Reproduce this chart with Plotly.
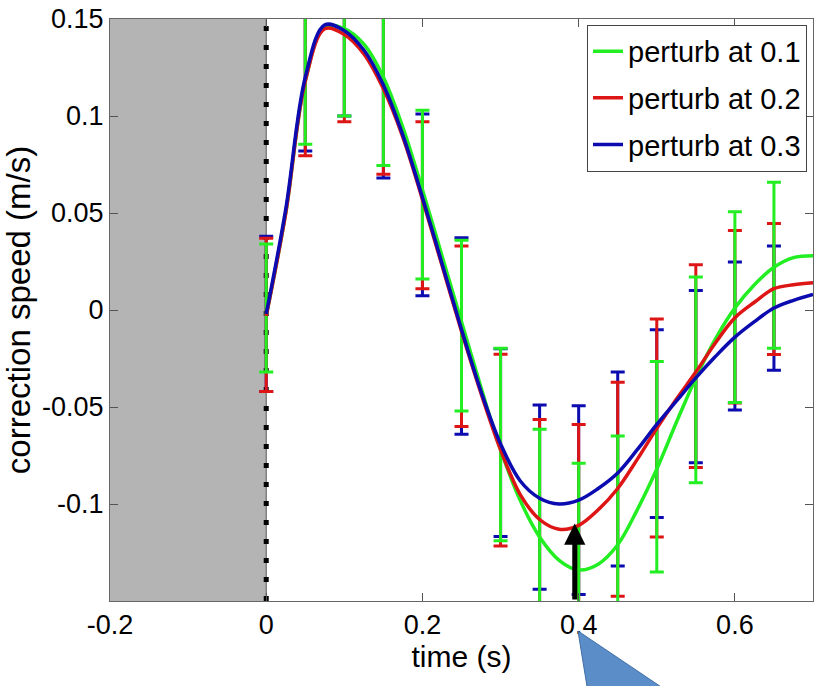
import plotly.graph_objects as go

# ---- data ----
t_curve = [0.0, 0.025, 0.05, 0.075, 0.1, 0.125, 0.15, 0.175, 0.2, 0.225, 0.25, 0.275,
           0.3, 0.325, 0.35, 0.375, 0.4, 0.425, 0.45, 0.475, 0.5, 0.525, 0.55, 0.575,
           0.6, 0.625, 0.65, 0.675, 0.7]
green_curve = [-0.003, 0.050, 0.118, 0.146, 0.145, 0.137, 0.120, 0.094, 0.062, 0.028, -0.006, -0.040,
               -0.072, -0.098, -0.117, -0.129, -0.134, -0.131, -0.121, -0.103, -0.082, -0.058, -0.035, -0.015,
               0.001, 0.013, 0.022, 0.027, 0.028]
red_curve = [-0.003, 0.050, 0.118, 0.145, 0.142, 0.132, 0.114, 0.089, 0.057, 0.023, -0.011, -0.043,
             -0.072, -0.095, -0.108, -0.113, -0.111, -0.103, -0.092, -0.077, -0.061, -0.046, -0.032, -0.017,
             -0.004, 0.004, 0.011, 0.013, 0.014]
blue_curve = [-0.002, 0.052, 0.120, 0.147, 0.144, 0.134, 0.116, 0.090, 0.058, 0.024, -0.010, -0.042,
              -0.069, -0.088, -0.097, -0.100, -0.098, -0.092, -0.084, -0.072, -0.059, -0.047, -0.035, -0.024,
              -0.014, -0.006, 0.001, 0.005, 0.008]

t_err = [0.0, 0.05, 0.1, 0.15, 0.2, 0.25, 0.3, 0.35, 0.4, 0.45, 0.5, 0.55, 0.6, 0.65]
green_hi = [0.034, 0.16, 0.19, 0.16, 0.103, 0.036, -0.0197, -0.0615, -0.079, -0.065, -0.0265, 0.017, 0.0506, 0.0658]
green_lo = [-0.032, 0.0855, 0.100, 0.0745, 0.016, -0.052, -0.119, -0.175, -0.19, -0.175, -0.135, -0.089, -0.0477, -0.0197]
red_hi = [0.037, 0.16, 0.19, 0.16, 0.097, 0.033, -0.0228, -0.0565, -0.059, -0.0373, -0.0047, 0.0233, 0.041, 0.0446]
red_lo = [-0.042, 0.0795, 0.097, 0.070, 0.011, -0.060, -0.1216, -0.165, -0.165, -0.1475, -0.117, -0.0812, -0.048, -0.023]
blue_hi = [0.038, 0.16, 0.19, 0.165, 0.101, 0.0373, -0.020, -0.049, -0.0494, -0.032, -0.0102, 0.010, 0.0248, 0.033]
blue_lo = [-0.042, 0.082, 0.100, 0.068, 0.0073, -0.064, -0.1167, -0.144, -0.1466, -0.132, -0.107, -0.0788, -0.0516, -0.031]

series_names = ["perturb at 0.1", "perturb at 0.2", "perturb at 0.3"]
x_ticks = [-0.2, 0, 0.2, 0.4, 0.6]
x_ticktext = ["-0.2", "0", "0.2", "0.4", "0.6"]
y_ticks = [-0.1, -0.05, 0, 0.05, 0.1, 0.15]
y_ticktext = ["-0.1", "-0.05", "0", "0.05", "0.1", "0.15"]
arrow_t = 0.395
arrow_tip = -0.110

GREEN = "#22ee22"
RED = "#dd1515"
BLUE = "#0b0bb0"
FONT = "Liberation Sans, Arial, sans-serif"

fig = go.Figure()

# error bars (blue, red, green so green is on top)
for hi, lo, col in [(blue_hi, blue_lo, BLUE), (red_hi, red_lo, RED), (green_hi, green_lo, GREEN)]:
    mid = [(a + b) / 2 for a, b in zip(hi, lo)]
    half = [(a - b) / 2 for a, b in zip(hi, lo)]
    fig.add_trace(go.Scatter(
        x=t_err, y=mid, mode="markers",
        marker=dict(size=1, color=col),
        error_y=dict(type="data", array=half, visible=True, color=col, thickness=3, width=7),
        showlegend=False, hoverinfo="skip"))

# curves
for name, ys, col, grp in [(series_names[0], green_curve, GREEN, "g"),
                           (series_names[1], red_curve, RED, "r"),
                           (series_names[2], blue_curve, BLUE, "b")]:
    fig.add_trace(go.Scatter(
        x=t_curve, y=ys, mode="lines", name=name, legendgroup=grp,
        line=dict(color=col, width=3.5, shape="spline", smoothing=1.0)))

fig.update_layout(
    width=814, height=686,
    margin=dict(l=110, r=1, t=19, b=85, autoexpand=False),
    paper_bgcolor="white", plot_bgcolor="white",
    font=dict(family=FONT, size=27, color="black"),
    showlegend=True,
    legend=dict(x=0.9915, y=0.99, xanchor="right", yanchor="top",
                bgcolor="white", bordercolor="#444444", borderwidth=1,
                font=dict(size=29), tracegroupgap=6, itemwidth=30),
    xaxis=dict(range=[-0.2, 0.7], tickvals=x_ticks, ticktext=x_ticktext,
               ticks="inside", ticklen=8, tickcolor="#555555", automargin=False,
               showline=True, linecolor="#666666", linewidth=1, mirror="ticks",
               showgrid=False, zeroline=False,
               title=dict(text="time (s)", font=dict(size=30), standoff=0)),
    yaxis=dict(range=[-0.15, 0.15], tickvals=y_ticks, ticktext=y_ticktext,
               ticks="inside", ticklen=8, tickcolor="#555555", automargin=False,
               showline=True, linecolor="#666666", linewidth=1, mirror="ticks",
               showgrid=False, zeroline=False,
               title=dict(text="correction speed (m/s)", font=dict(size=33), standoff=2)),
)

# gray pre-perturbation region
fig.add_shape(type="rect", xref="x", yref="y", x0=-0.2, x1=0, y0=-0.15, y1=0.15,
              fillcolor="#b4b4b4", line=dict(width=0), layer="below")
# dotted line at t=0
fig.add_shape(type="line", xref="x", yref="y", x0=0, x1=0, y0=-0.15, y1=0.15,
              line=dict(color="#555555", width=1), layer="below")
fig.add_shape(type="line", xref="x", yref="y", x0=0, x1=0, y0=-0.15, y1=0.15,
              line=dict(color="black", width=5, dash="5px,14px"), layer="below")

# black arrow
fig.add_annotation(x=arrow_t, y=arrow_tip, ax=arrow_t, ay=-0.15, axref="x", ayref="y",
                   xref="x", yref="y", text="", showarrow=True,
                   arrowhead=2, arrowsize=0.85, arrowwidth=5, arrowcolor="black")

# blue callout pointer (drawn as a paper-referenced path, on top of tick labels)
fig.add_shape(type="path", xref="x domain", yref="y domain",
              path="M0.6657,-0.0515 L0.6817,-0.1700 L0.8115,-0.1700 Z",
              fillcolor="rgb(91,141,200)", line=dict(color="rgb(64,110,165)", width=1),
              layer="above")

fig.write_html("out.html", config={"displayModeBar": False},
               post_script="document.body.style.margin='0px';")
